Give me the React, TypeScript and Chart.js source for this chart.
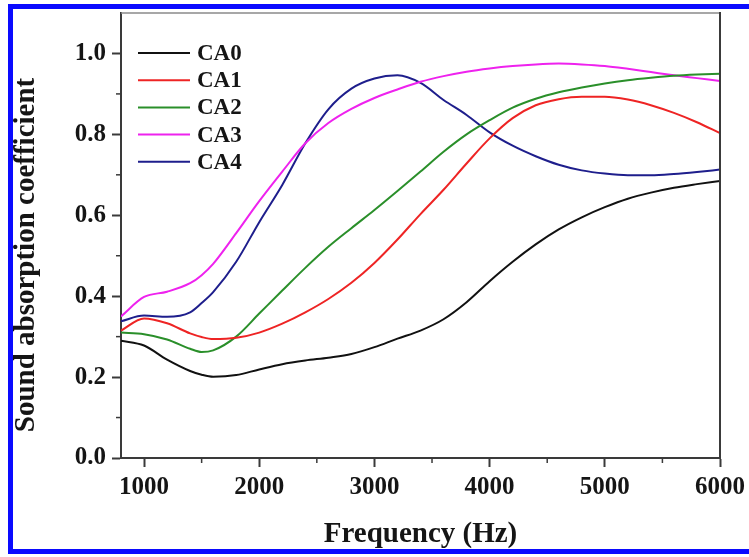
import React, { useEffect, useRef } from "react";
import { Chart, registerables } from "chart.js";

Chart.register(...registerables);

const frequencies = [800, 1000, 1200, 1400, 1500, 1600, 1800, 2000, 2200, 2400, 2600, 2800, 3000, 3200, 3400, 3600, 3800, 4000, 4200, 4400, 4600, 4800, 5000, 5200, 5400, 5600, 5800, 6000];

const CA0 = [0.29, 0.278, 0.243, 0.215, 0.206, 0.201, 0.205, 0.219, 0.232, 0.241, 0.248, 0.257, 0.274, 0.295, 0.315, 0.343, 0.385, 0.437, 0.485, 0.528, 0.565, 0.595, 0.62, 0.641, 0.656, 0.668, 0.677, 0.685];
const CA1 = [0.315, 0.345, 0.333, 0.308, 0.299, 0.294, 0.297, 0.31, 0.332, 0.36, 0.393, 0.433, 0.482, 0.54, 0.603, 0.663, 0.728, 0.79, 0.84, 0.872, 0.887, 0.893, 0.893, 0.886, 0.872, 0.853, 0.83, 0.803];
const CA2 = [0.31, 0.306, 0.293, 0.27, 0.262, 0.266, 0.3, 0.357, 0.414, 0.47, 0.522, 0.568, 0.613, 0.66, 0.708, 0.757, 0.8, 0.835, 0.866, 0.888, 0.904, 0.916, 0.926, 0.934, 0.94, 0.945, 0.948, 0.95];
const CA3 = [0.35, 0.398, 0.411, 0.432, 0.452, 0.48, 0.556, 0.635, 0.708, 0.778, 0.828, 0.863, 0.89, 0.911, 0.93, 0.944, 0.955, 0.963, 0.969, 0.973, 0.975, 0.973, 0.969, 0.962, 0.954, 0.946, 0.939, 0.932];
const CA4 = [0.338, 0.352, 0.349, 0.36, 0.383, 0.41, 0.485, 0.583, 0.675, 0.778, 0.862, 0.913, 0.938, 0.946, 0.927, 0.885, 0.848, 0.805, 0.772, 0.746, 0.725, 0.711, 0.703, 0.699, 0.699, 0.702, 0.707, 0.713];

const seriesNames = ["CA0", "CA1", "CA2", "CA3", "CA4"];
const seriesValues = [CA0, CA1, CA2, CA3, CA4];
const seriesColors = ["#111111", "#ee2424", "#2a8f2a", "#ee22ee", "#1e1e8c"];

const xTicks = [1000, 2000, 3000, 4000, 5000, 6000];
const xMinorTicks = [1500, 2500, 3500, 4500, 5500];
const yTicks = [0, 0.2, 0.4, 0.6, 0.8, 1.0];
const yMinorTicks = [0.1, 0.3, 0.5, 0.7, 0.9];

const xTitle = "Frequency (Hz)";
const yTitle = "Sound absorption coefficient";

const FONT = "'Liberation Serif', 'Times New Roman', serif";
const INK = "#151515";
const AXIS = "#3a3a3a";

const decorPlugin = {
  id: "decor",
  afterDraw(chart: any) {
    const { ctx, chartArea, scales } = chart;
    const { left, right, top, bottom } = chartArea;
    ctx.save();
    // top and right frame
    ctx.strokeStyle = "#8a8a8a";
    ctx.lineWidth = 1.5;
    ctx.beginPath();
    ctx.moveTo(left, top);
    ctx.lineTo(right, top);
    ctx.stroke();
    ctx.strokeStyle = AXIS;
    ctx.lineWidth = 2;
    ctx.beginPath();
    ctx.moveTo(right, top - 1);
    ctx.lineTo(right, bottom);
    ctx.stroke();
    // minor ticks
    ctx.strokeStyle = AXIS;
    ctx.lineWidth = 1.5;
    xMinorTicks.forEach((v) => {
      const x = scales.x.getPixelForValue(v);
      ctx.beginPath();
      ctx.moveTo(x, bottom);
      ctx.lineTo(x, bottom + 5);
      ctx.stroke();
    });
    yMinorTicks.forEach((v) => {
      const y = scales.y.getPixelForValue(v);
      ctx.beginPath();
      ctx.moveTo(left, y);
      ctx.lineTo(left - 5, y);
      ctx.stroke();
    });
    // legend
    const ds = chart.data.datasets;
    ctx.font = `bold 23px ${FONT}`;
    ctx.textBaseline = "middle";
    ctx.textAlign = "left";
    ds.forEach((d: any, i: number) => {
      const y = top + 40 + i * 27.2;
      ctx.strokeStyle = d.borderColor;
      ctx.lineWidth = 2;
      ctx.beginPath();
      ctx.moveTo(left + 17, y);
      ctx.lineTo(left + 69, y);
      ctx.stroke();
      ctx.fillStyle = INK;
      ctx.fillText(d.label, left + 76, y + 1);
    });
    // axis titles
    ctx.fillStyle = INK;
    ctx.font = `bold 29px ${FONT}`;
    ctx.textAlign = "center";
    ctx.textBaseline = "middle";
    ctx.fillText(xTitle, (left + right) / 2, 535);
    ctx.save();
    ctx.translate(27, 255);
    ctx.rotate(-Math.PI / 2);
    ctx.fillText(yTitle, 0, 0);
    ctx.restore();
    ctx.restore();
  },
};

export default function App() {
  const ref = useRef<HTMLCanvasElement | null>(null);

  useEffect(() => {
    if (!ref.current) return;
    const chart = new Chart(ref.current, {
      type: "line",
      data: {
        datasets: seriesNames.map((name, i) => ({
          label: name,
          data: frequencies.map((f, j) => ({ x: f, y: seriesValues[i][j] })),
          borderColor: seriesColors[i],
          backgroundColor: seriesColors[i],
          borderWidth: 2,
          pointRadius: 0,
          cubicInterpolationMode: "monotone" as const,
          fill: false,
        })),
      },
      options: {
        responsive: false,
        animation: false,
        devicePixelRatio: 1,
        layout: { padding: { left: 0, top: 13, right: 29, bottom: 0 } },
        plugins: {
          legend: { display: false },
          tooltip: { enabled: false },
          title: { display: false },
        },
        scales: {
          x: {
            type: "linear",
            min: 800,
            max: 6000,
            afterBuildTicks: (scale: any) => {
              scale.ticks = xTicks.map((v) => ({ value: v }));
            },
            afterFit: (scale: any) => {
              scale.height = 99;
              scale.paddingLeft = 0;
              scale.paddingRight = 0;
            },
            grid: {
              drawOnChartArea: false,
              drawTicks: true,
              tickLength: 9,
              tickColor: AXIS,
              tickWidth: 2,
            },
            border: { color: AXIS, width: 2 },
            ticks: {
              color: INK,
              font: { family: FONT, size: 25, weight: "bold" },
              padding: 6,
              maxRotation: 0,
              autoSkip: false,
              callback: (v: any) => String(v),
            },
          },
          y: {
            type: "linear",
            min: 0,
            max: 1.1,
            afterBuildTicks: (scale: any) => {
              scale.ticks = yTicks.map((v) => ({ value: v }));
            },
            afterFit: (scale: any) => {
              scale.width = 121;
              scale.paddingTop = 0;
              scale.paddingBottom = 0;
            },
            grid: {
              drawOnChartArea: false,
              drawTicks: true,
              tickLength: 9,
              tickColor: AXIS,
              tickWidth: 2,
            },
            border: { color: AXIS, width: 2 },
            ticks: {
              color: INK,
              font: { family: FONT, size: 25, weight: "bold" },
              padding: 6,
              autoSkip: false,
              callback: (v: any) => Number(v).toFixed(1),
            },
          },
        },
      },
      plugins: [decorPlugin],
    });
    return () => chart.destroy();
  }, []);

  const blue = "#0a0aff";
  return (
    <div style={{ position: "absolute", left: 0, top: 0, width: 749, height: 557, background: "#fff", overflow: "hidden" }}>
      <canvas ref={ref} width={749} height={557} style={{ position: "absolute", left: 0, top: 0, width: 749, height: 557 }} />
      <div style={{ position: "absolute", left: 8, top: 4, width: 741, height: 5, background: blue }} />
      <div style={{ position: "absolute", left: 8, top: 4, width: 5, height: 550, background: blue }} />
      <div style={{ position: "absolute", left: 8, top: 549, width: 741, height: 5, background: blue }} />
    </div>
  );
}
